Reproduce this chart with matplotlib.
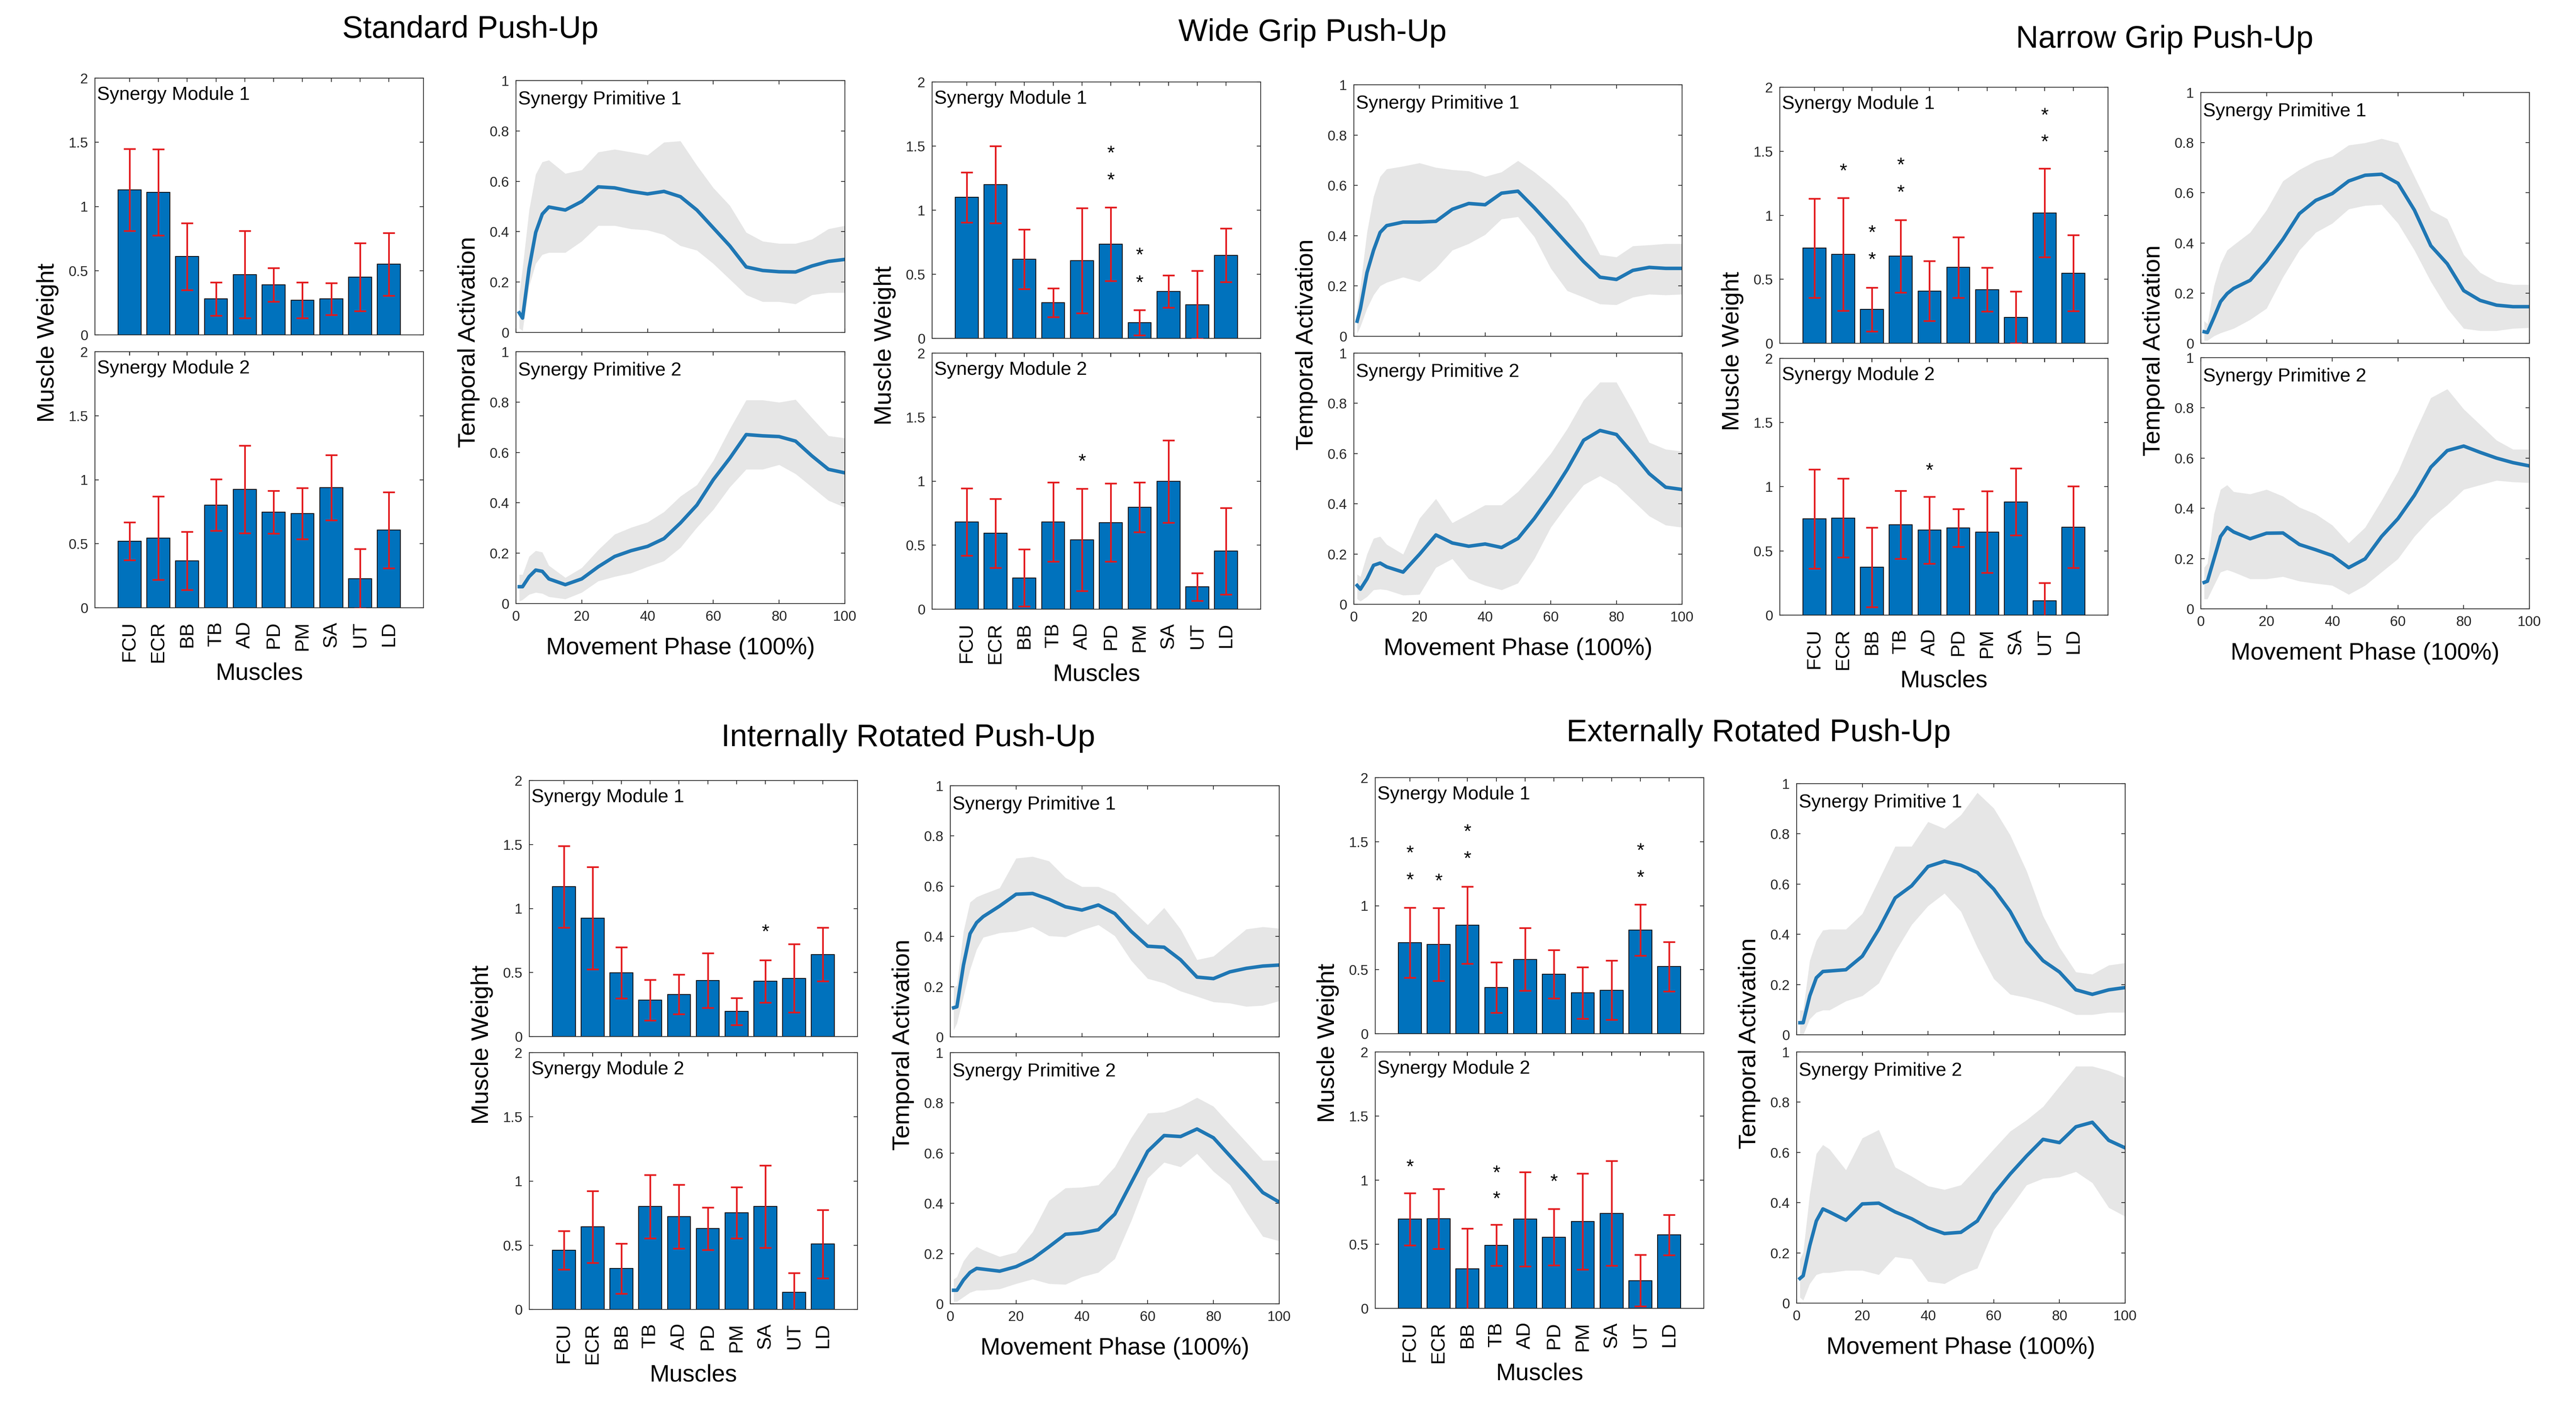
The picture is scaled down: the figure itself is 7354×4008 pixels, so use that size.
# push-up synergy figure: muscle weights (bars) + temporal activations (lines)

import numpy as np
import matplotlib
matplotlib.use("Agg")
import matplotlib.pyplot as plt
from matplotlib import transforms

# ---------------- data ----------------
muscles = ["FCU", "ECR", "BB", "TB", "AD", "PD", "PM", "SA", "UT", "LD"]
bar_yticks = [0, 0.5, 1, 1.5, 2]
line_yticks = [0, 0.2, 0.4, 0.6, 0.8, 1]
phase_ticks = [0, 20, 40, 60, 80, 100]

# Standard
std_m1 = [1.13, 1.11, 0.61, 0.28, 0.47, 0.39, 0.27, 0.28, 0.45, 0.55]
std_m1_sd = [0.32, 0.335, 0.26, 0.13, 0.34, 0.13, 0.14, 0.125, 0.265, 0.245]
std_m2 = [0.52, 0.545, 0.366, 0.803, 0.925, 0.747, 0.736, 0.939, 0.227, 0.607]
std_m2_sd = [0.147, 0.325, 0.227, 0.2, 0.342, 0.167, 0.2, 0.255, 0.233, 0.297]
std_m1_stars = []
std_m2_stars = []

# Wide grip
wide_m1 = [1.10, 1.20, 0.617, 0.279, 0.606, 0.735, 0.122, 0.366, 0.261, 0.648]
wide_m1_sd = [0.195, 0.3, 0.233, 0.111, 0.41, 0.286, 0.098, 0.125, 0.265, 0.209]
wide_m2 = [0.681, 0.593, 0.244, 0.681, 0.541, 0.677, 0.796, 0.998, 0.175, 0.454]
wide_m2_sd = [0.262, 0.269, 0.223, 0.31, 0.4, 0.304, 0.195, 0.321, 0.108, 0.338]
wide_m1_stars = [("PD", 1.488), ("PD", 1.279), ("PM", 0.693), ("PM", 0.477)]
wide_m2_stars = [("AD", 1.197)]

# Narrow grip
nar_m1 = [0.743, 0.695, 0.265, 0.681, 0.408, 0.593, 0.419, 0.202, 1.019, 0.548]
nar_m1_sd = [0.388, 0.44, 0.171, 0.283, 0.234, 0.237, 0.171, 0.202, 0.346, 0.297]
nar_m2 = [0.749, 0.756, 0.373, 0.704, 0.662, 0.679, 0.648, 0.882, 0.111, 0.686]
nar_m2_sd = [0.387, 0.307, 0.31, 0.265, 0.261, 0.147, 0.317, 0.261, 0.14, 0.317]
nar_m1_stars = [("ECR", 1.389), ("BB", 0.908), ("BB", 0.698), ("TB", 1.435),
                ("TB", 1.222), ("UT", 1.825), ("UT", 1.616)]
nar_m2_stars = [("AD", 1.171)]

# Internally rotated
int_m1 = [1.17, 0.925, 0.497, 0.284, 0.329, 0.438, 0.196, 0.431, 0.455, 0.641]
int_m1_sd = [0.319, 0.4, 0.2, 0.158, 0.154, 0.214, 0.105, 0.165, 0.266, 0.21]
int_m2 = [0.462, 0.643, 0.318, 0.801, 0.724, 0.629, 0.752, 0.801, 0.133, 0.51]
int_m2_sd = [0.15, 0.28, 0.196, 0.248, 0.248, 0.165, 0.199, 0.321, 0.15, 0.266]
int_m1_stars = [("SA", 0.862)]
int_m2_stars = []

# Externally rotated
ext_m1 = [0.711, 0.697, 0.848, 0.361, 0.581, 0.466, 0.319, 0.34, 0.809, 0.525]
ext_m1_sd = [0.273, 0.284, 0.301, 0.196, 0.245, 0.189, 0.2, 0.231, 0.2, 0.193]
ext_m2 = [0.696, 0.699, 0.308, 0.493, 0.696, 0.556, 0.678, 0.741, 0.217, 0.573]
ext_m2_sd = [0.203, 0.234, 0.315, 0.161, 0.367, 0.22, 0.374, 0.409, 0.2, 0.157]
ext_m1_stars = [("FCU", 1.454), ("FCU", 1.243), ("ECR", 1.236), ("BB", 1.622),
                ("BB", 1.412), ("UT", 1.475), ("UT", 1.264)]
ext_m2_stars = [("FCU", 1.147), ("TB", 1.101), ("TB", 0.899), ("PD", 1.031)]

# movement phase (%) where the curves were read
phase = [1, 2, 4, 6, 8, 10, 15, 20, 25, 30, 35, 40, 45, 50, 55, 60, 65, 70, 75, 80, 85, 90, 95, 100]

std_p1 = [0.078, 0.057, 0.255, 0.397, 0.47, 0.498, 0.486, 0.52, 0.578, 0.574, 0.56, 0.55, 0.56, 0.539, 0.486, 0.415, 0.344, 0.26, 0.246, 0.241, 0.24, 0.264, 0.282, 0.29]
std_p1_hi = [0.15, 0.255, 0.486, 0.628, 0.677, 0.684, 0.631, 0.645, 0.716, 0.727, 0.716, 0.704, 0.755, 0.76, 0.663, 0.574, 0.504, 0.397, 0.362, 0.353, 0.353, 0.37, 0.411, 0.424]
std_p1_lo = [0.016, 0.007, 0.184, 0.273, 0.309, 0.317, 0.317, 0.362, 0.424, 0.424, 0.411, 0.406, 0.388, 0.344, 0.326, 0.273, 0.211, 0.149, 0.122, 0.122, 0.113, 0.149, 0.158, 0.158]
std_p2 = [0.067, 0.067, 0.107, 0.133, 0.128, 0.098, 0.075, 0.098, 0.146, 0.187, 0.21, 0.227, 0.258, 0.32, 0.391, 0.492, 0.577, 0.671, 0.666, 0.663, 0.645, 0.586, 0.533, 0.519]
std_p2_hi = [0.115, 0.115, 0.187, 0.21, 0.204, 0.151, 0.103, 0.142, 0.213, 0.275, 0.302, 0.323, 0.364, 0.426, 0.471, 0.568, 0.693, 0.808, 0.808, 0.799, 0.81, 0.737, 0.666, 0.657]
std_p2_lo = [0.009, 0.015, 0.036, 0.044, 0.04, 0.027, 0.018, 0.044, 0.089, 0.107, 0.121, 0.146, 0.169, 0.222, 0.302, 0.373, 0.462, 0.533, 0.533, 0.551, 0.515, 0.462, 0.409, 0.382]

wide_p1 = [0.06, 0.11, 0.253, 0.342, 0.413, 0.44, 0.454, 0.454, 0.457, 0.505, 0.528, 0.523, 0.569, 0.577, 0.511, 0.44, 0.368, 0.297, 0.235, 0.226, 0.262, 0.274, 0.27, 0.27]
wide_p1_hi = [0.11, 0.2, 0.413, 0.555, 0.635, 0.665, 0.676, 0.689, 0.671, 0.662, 0.657, 0.635, 0.653, 0.698, 0.653, 0.6, 0.537, 0.448, 0.324, 0.315, 0.359, 0.363, 0.368, 0.368]
wide_p1_lo = [0.012, 0.039, 0.11, 0.164, 0.2, 0.214, 0.235, 0.217, 0.27, 0.342, 0.368, 0.404, 0.466, 0.475, 0.395, 0.27, 0.181, 0.155, 0.128, 0.125, 0.155, 0.167, 0.164, 0.167]
wide_p2 = [0.075, 0.06, 0.101, 0.155, 0.164, 0.149, 0.128, 0.199, 0.276, 0.244, 0.231, 0.24, 0.226, 0.262, 0.342, 0.434, 0.537, 0.653, 0.692, 0.676, 0.6, 0.52, 0.466, 0.457]
wide_p2_hi = [0.119, 0.11, 0.199, 0.262, 0.27, 0.238, 0.199, 0.342, 0.42, 0.324, 0.359, 0.395, 0.395, 0.448, 0.52, 0.6, 0.698, 0.813, 0.884, 0.884, 0.769, 0.644, 0.617, 0.609]
wide_p2_lo = [0.021, 0.012, 0.03, 0.057, 0.06, 0.057, 0.036, 0.039, 0.146, 0.181, 0.101, 0.075, 0.057, 0.084, 0.181, 0.306, 0.395, 0.475, 0.511, 0.475, 0.413, 0.351, 0.315, 0.306]

nar_p1 = [0.046, 0.043, 0.103, 0.166, 0.198, 0.219, 0.251, 0.326, 0.415, 0.517, 0.57, 0.597, 0.647, 0.67, 0.674, 0.638, 0.531, 0.389, 0.317, 0.21, 0.171, 0.152, 0.146, 0.146]
nar_p1_hi = [0.089, 0.077, 0.228, 0.317, 0.371, 0.392, 0.442, 0.531, 0.647, 0.692, 0.727, 0.745, 0.79, 0.799, 0.816, 0.799, 0.665, 0.531, 0.496, 0.353, 0.282, 0.246, 0.234, 0.234]
nar_p1_lo = [0.011, 0.011, 0.029, 0.041, 0.05, 0.059, 0.094, 0.139, 0.264, 0.371, 0.442, 0.478, 0.535, 0.549, 0.553, 0.478, 0.371, 0.246, 0.139, 0.059, 0.05, 0.05, 0.059, 0.062]
nar_p2 = [0.105, 0.11, 0.199, 0.288, 0.324, 0.306, 0.279, 0.301, 0.302, 0.256, 0.235, 0.212, 0.164, 0.199, 0.288, 0.359, 0.452, 0.564, 0.63, 0.648, 0.623, 0.6, 0.582, 0.569]
nar_p2_hi = [0.164, 0.181, 0.377, 0.475, 0.493, 0.466, 0.457, 0.475, 0.448, 0.404, 0.377, 0.333, 0.262, 0.324, 0.431, 0.546, 0.698, 0.84, 0.875, 0.795, 0.733, 0.671, 0.635, 0.635]
nar_p2_lo = [0.039, 0.039, 0.093, 0.146, 0.155, 0.146, 0.119, 0.119, 0.128, 0.11, 0.101, 0.093, 0.057, 0.093, 0.146, 0.199, 0.288, 0.359, 0.413, 0.475, 0.493, 0.511, 0.505, 0.502]

int_p1 = [0.116, 0.12, 0.286, 0.411, 0.455, 0.479, 0.521, 0.568, 0.571, 0.548, 0.518, 0.505, 0.525, 0.491, 0.42, 0.361, 0.357, 0.307, 0.238, 0.232, 0.259, 0.273, 0.282, 0.286]
int_p1_hi = [0.196, 0.205, 0.42, 0.536, 0.557, 0.568, 0.593, 0.711, 0.718, 0.7, 0.634, 0.598, 0.598, 0.571, 0.509, 0.446, 0.514, 0.429, 0.307, 0.321, 0.375, 0.429, 0.438, 0.432]
int_p1_lo = [0.027, 0.054, 0.161, 0.268, 0.348, 0.396, 0.414, 0.42, 0.438, 0.402, 0.398, 0.425, 0.446, 0.402, 0.304, 0.232, 0.214, 0.182, 0.161, 0.139, 0.134, 0.121, 0.125, 0.143]
int_p2 = [0.054, 0.054, 0.095, 0.125, 0.141, 0.138, 0.13, 0.148, 0.179, 0.227, 0.277, 0.282, 0.295, 0.357, 0.482, 0.607, 0.67, 0.666, 0.696, 0.661, 0.589, 0.518, 0.443, 0.405]
int_p2_hi = [0.098, 0.107, 0.17, 0.205, 0.227, 0.214, 0.188, 0.205, 0.286, 0.411, 0.461, 0.464, 0.473, 0.545, 0.661, 0.759, 0.763, 0.786, 0.821, 0.786, 0.714, 0.643, 0.571, 0.571]
int_p2_lo = [0.009, 0.009, 0.027, 0.045, 0.054, 0.054, 0.059, 0.08, 0.098, 0.08, 0.077, 0.107, 0.125, 0.179, 0.33, 0.5, 0.563, 0.545, 0.598, 0.527, 0.473, 0.366, 0.268, 0.25]

ext_p1 = [0.048, 0.048, 0.155, 0.227, 0.252, 0.254, 0.259, 0.313, 0.42, 0.545, 0.593, 0.67, 0.691, 0.675, 0.646, 0.58, 0.491, 0.371, 0.295, 0.25, 0.179, 0.161, 0.179, 0.188]
ext_p1_hi = [0.098, 0.098, 0.295, 0.375, 0.416, 0.42, 0.42, 0.482, 0.616, 0.75, 0.75, 0.848, 0.821, 0.875, 0.964, 0.902, 0.795, 0.652, 0.473, 0.348, 0.25, 0.241, 0.277, 0.286]
ext_p1_lo = [0.0, 0.0, 0.063, 0.089, 0.098, 0.098, 0.134, 0.155, 0.205, 0.33, 0.438, 0.513, 0.563, 0.491, 0.348, 0.223, 0.161, 0.148, 0.13, 0.107, 0.08, 0.08, 0.089, 0.089]
ext_p2 = [0.098, 0.109, 0.229, 0.327, 0.375, 0.363, 0.33, 0.395, 0.398, 0.363, 0.336, 0.3, 0.277, 0.282, 0.327, 0.434, 0.514, 0.586, 0.652, 0.639, 0.702, 0.72, 0.648, 0.618]
ext_p2_hi = [0.175, 0.202, 0.434, 0.595, 0.63, 0.613, 0.53, 0.657, 0.69, 0.541, 0.505, 0.466, 0.452, 0.47, 0.541, 0.613, 0.684, 0.729, 0.782, 0.863, 0.943, 0.943, 0.925, 0.898]
ext_p2_lo = [0.023, 0.011, 0.077, 0.113, 0.121, 0.121, 0.13, 0.13, 0.113, 0.184, 0.175, 0.086, 0.077, 0.113, 0.139, 0.291, 0.38, 0.47, 0.496, 0.502, 0.523, 0.479, 0.38, 0.345]

titles = ["Standard Push-Up", "Wide Grip Push-Up", "Narrow Grip Push-Up",
          "Internally Rotated Push-Up", "Externally Rotated Push-Up"]

# ---------------- layout (pixel boxes of the 7354x4008 canvas) ----------------
W, H = 7354, 4008
DPI = 200
plt.rcParams["font.family"] = ["Liberation Sans", "DejaVu Sans"]
NARROW = ["Liberation Sans Narrow", "Liberation Sans", "DejaVu Sans"]
BAR_C = "#0072BD"
LINE_C = "#1f77b4"
SHADE_C = "#E6E6E6"
ERR_C = "#E3191C"
AX_C = "#262626"

fig = plt.figure(figsize=(W / DPI, H / DPI), dpi=DPI)
fig.patch.set_facecolor("white")


def rect(x0, x1, y0, y1):
    return [x0 / W, 1 - y1 / H, (x1 - x0) / W, (y1 - y0) / H]


def style(ax):
    ax.tick_params(direction="in", length=4, width=0.8, top=True, right=True,
                   colors=AX_C, labelsize=14.5, pad=7)
    for s in ax.spines.values():
        s.set_color(AX_C)
        s.set_linewidth(0.8)


def bar_panel(box, mean, sd, stars, label, show_x):
    ax = fig.add_axes(rect(*box))
    pos = np.arange(1, len(muscles) + 1)
    ax.bar(pos, mean, 0.8, color=BAR_C, edgecolor="black", linewidth=0.8, zorder=2)
    ax.errorbar(pos, mean, yerr=sd, fmt="none", ecolor=ERR_C, elinewidth=1.7,
                capsize=6, capthick=1.7, zorder=3)
    fs = 20
    off = transforms.offset_copy(ax.transData, fig=fig, y=-0.58 * fs, units="points")
    for m, y in stars:
        ax.text(muscles.index(m) + 1, y, "*", transform=off, ha="center",
                va="baseline", fontsize=fs, color="black")
    ax.set_xlim(-0.2, 11.2)
    ax.set_ylim(0, 2)
    ax.set_yticks(bar_yticks)
    ax.set_yticklabels([f"{v:g}" for v in bar_yticks])
    ax.set_xticks(pos)
    style(ax)
    if show_x:
        ax.set_xticklabels(muscles, rotation=90, fontsize=20, family=NARROW)
        ax.tick_params(axis="x", pad=14, colors="black")
    else:
        ax.set_xticklabels([])
    ax.text(0.006, 0.935, label, transform=ax.transAxes, ha="left", va="center",
            fontsize=19.5, color="black")
    return ax


def line_panel(box, mean, hi, lo, label, show_x):
    ax = fig.add_axes(rect(*box))
    ax.fill_between(phase, lo, hi, color=SHADE_C, linewidth=0, zorder=1)
    ax.plot(phase, mean, color=LINE_C, linewidth=3.6, zorder=2)
    ax.set_xlim(0, 100)
    ax.set_ylim(0, 1)
    ax.set_yticks(line_yticks)
    ax.set_yticklabels([f"{v:g}" for v in line_yticks])
    ax.set_xticks(phase_ticks)
    style(ax)
    if not show_x:
        ax.set_xticklabels([])
    ax.text(0.006, 0.925, label, transform=ax.transAxes, ha="left", va="center",
            fontsize=19.5, color="black")
    return ax


def group(title, title_xy, bar_x, m_y, line_x, p_y, bars, lines):
    fig.text(title_xy[0] / W, 1 - title_xy[1] / H, title, ha="center", va="center",
             fontsize=32, color="black")
    m1, m1sd, m1st, m2, m2sd, m2st = bars
    bar_panel((bar_x[0], bar_x[1], m_y[0], m_y[1]), m1, m1sd, m1st, "Synergy Module 1", False)
    bar_panel((bar_x[0], bar_x[1], m_y[2], m_y[3]), m2, m2sd, m2st, "Synergy Module 2", True)
    fig.text((bar_x[0] - 135) / W, 1 - (m_y[0] + m_y[3]) / 2 / H, "Muscle Weight",
             rotation=90, ha="center", va="center", fontsize=25, family=NARROW)
    fig.text((bar_x[0] + bar_x[1]) / 2 / W, 1 - (m_y[3] + 187) / H, "Muscles",
             ha="center", va="center", fontsize=24.5)
    p1, p1h, p1l, p2, p2h, p2l = lines
    line_panel((line_x[0], line_x[1], p_y[0], p_y[1]), p1, p1h, p1l, "Synergy Primitive 1", False)
    line_panel((line_x[0], line_x[1], p_y[2], p_y[3]), p2, p2h, p2l, "Synergy Primitive 2", True)
    fig.text((line_x[0] - 135) / W, 1 - (p_y[0] + p_y[3]) / 2 / H, "Temporal Activation",
             rotation=90, ha="center", va="center", fontsize=25, family=NARROW)
    fig.text((line_x[0] + line_x[1]) / 2 / W, 1 - (p_y[3] + 127) / H, "Movement Phase (100%)",
             ha="center", va="center", fontsize=24.5)


group(titles[0], (1343, 85), (271, 1209), (223, 956, 1004, 1735),
      (1473, 2412), (230, 949, 1004, 1723),
      (std_m1, std_m1_sd, std_m1_stars, std_m2, std_m2_sd, std_m2_stars),
      (std_p1, std_p1_hi, std_p1_lo, std_p2, std_p2_hi, std_p2_lo))
group(titles[1], (3747, 94), (2661, 3599), (234, 966, 1008, 1739),
      (3865, 4802), (242, 960, 1008, 1725),
      (wide_m1, wide_m1_sd, wide_m1_stars, wide_m2, wide_m2_sd, wide_m2_stars),
      (wide_p1, wide_p1_hi, wide_p1_lo, wide_p2, wide_p2_hi, wide_p2_lo))
group(titles[2], (6180, 113), (5081, 6018), (249, 980, 1023, 1756),
      (6283, 7221), (264, 980, 1021, 1738),
      (nar_m1, nar_m1_sd, nar_m1_stars, nar_m2, nar_m2_sd, nar_m2_stars),
      (nar_p1, nar_p1_hi, nar_p1_lo, nar_p2, nar_p2_hi, nar_p2_lo))
group(titles[3], (2593, 2107), (1511, 2448), (2228, 2959, 3005, 3738),
      (2713, 3652), (2243, 2960, 3005, 3722),
      (int_m1, int_m1_sd, int_m1_stars, int_m2, int_m2_sd, int_m2_stars),
      (int_p1, int_p1_hi, int_p1_lo, int_p2, int_p2_hi, int_p2_lo))
group(titles[4], (5020, 2093), (3926, 4864), (2220, 2951, 3003, 3735),
      (5129, 6067), (2237, 2954, 3003, 3720),
      (ext_m1, ext_m1_sd, ext_m1_stars, ext_m2, ext_m2_sd, ext_m2_stars),
      (ext_p1, ext_p1_hi, ext_p1_lo, ext_p2, ext_p2_hi, ext_p2_lo))

fig.savefig("out.png", dpi=DPI, facecolor="white")
